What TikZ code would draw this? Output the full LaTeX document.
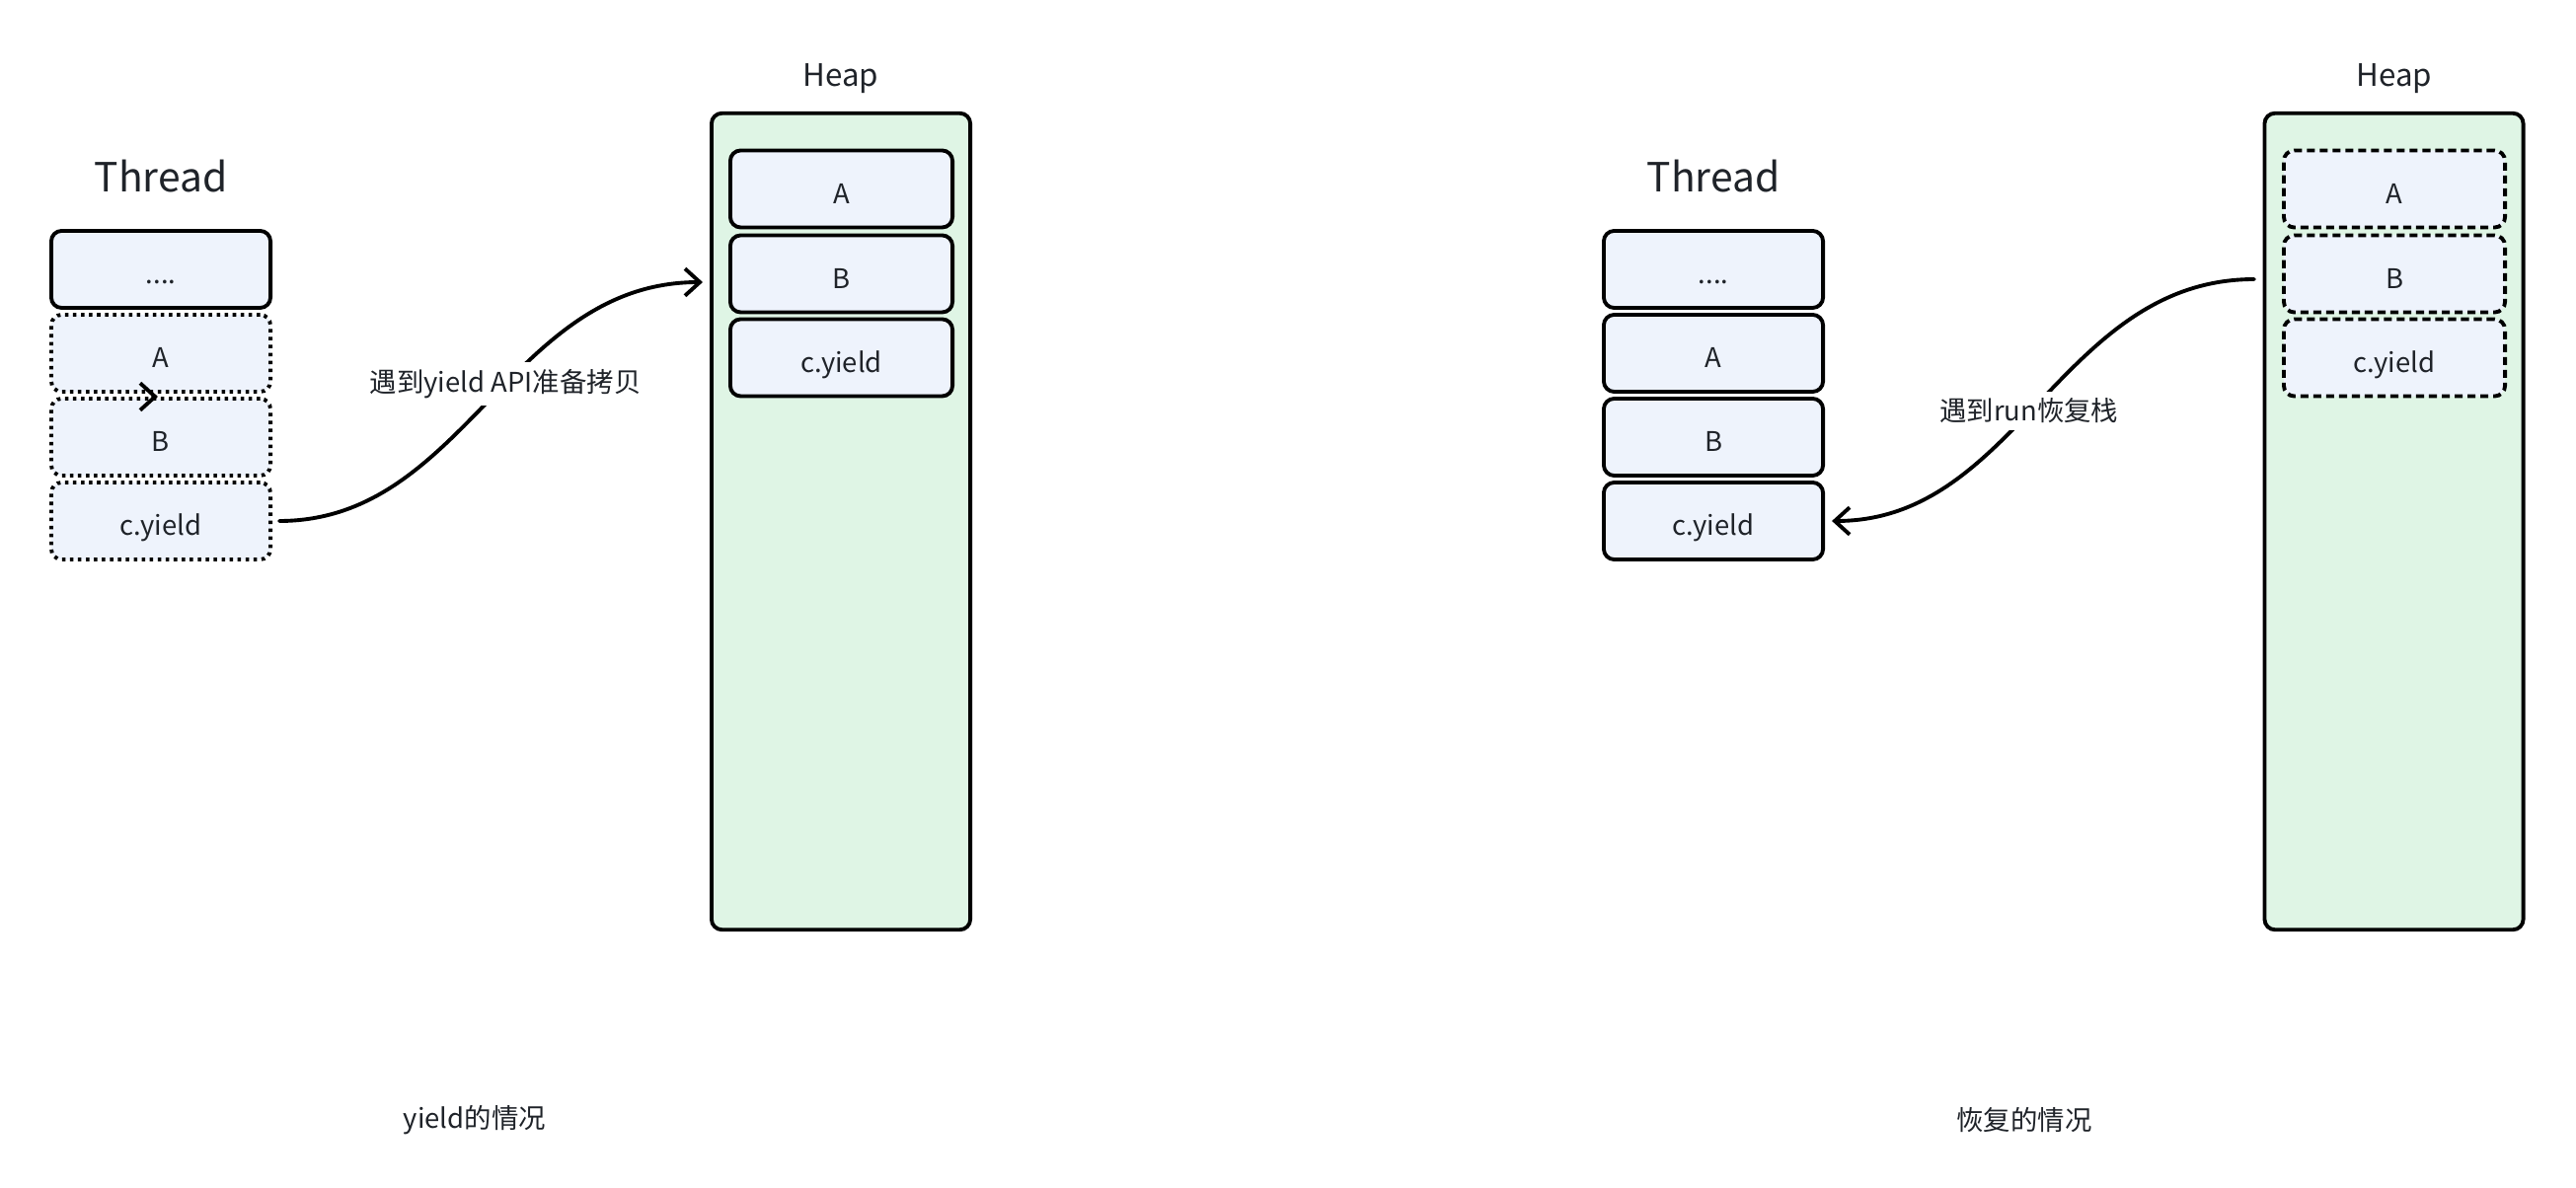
\documentclass[tikz,border=0pt]{standalone}
\usepackage{fontspec}
\setmainfont{Noto Sans CJK SC}
\usepackage{tikz}
\usetikzlibrary{arrows.meta}
\definecolor{ink}{HTML}{1F2329}
\definecolor{frame}{HTML}{EEF3FC}
\definecolor{heapbg}{HTML}{DFF5E5}

\begin{document}
\begin{tikzpicture}[
    x=0.01cm, y=-0.01cm,
    framebox/.style={
        draw=black, fill=frame, line width=1.1pt, rounded corners=3pt,
        minimum width=2.22cm, minimum height=0.78cm, inner sep=0pt,
        text height=1.0em, text depth=0.15em,
        text=ink, font=\fontsize{7.8}{9}\selectfont,
    },
    copied/.style={framebox, dash pattern=on 1pt off 1.3pt},
    saved/.style={framebox, dash pattern=on 2.3pt off 1.4pt},
    heapbox/.style={
        draw=black, fill=heapbg, line width=1.1pt, rounded corners=3pt,
        minimum width=2.62cm, minimum height=8.27cm, inner sep=0pt,
    },
    title/.style={text=ink, anchor=base, font=\fontsize{11.6}{14}\selectfont},
    heaptitle/.style={text=ink, anchor=base, font=\fontsize{8.9}{11}\selectfont},
    caption/.style={text=ink, font=\fontsize{7.8}{9}\selectfont},
    flowarrow/.style={
        black, line width=1.1pt, line cap=round,
        -{Straight Barb[length=4.3pt, width=7.8pt]},
    },
]

% page
\fill[white] (0,0) rectangle (2610,1204);
\useasboundingbox (0,0) rectangle (2610,1204);

% =============================================
% LEFT – yield: stack copied out to the heap
% =============================================
\node[title] (lthreadtitle) at (163,195) {Thread};
\node[framebox] (ldots) at (163,273) {....};
\node[copied] (lfa) at (163,358) {A};
\node[copied] (lfb) at (163,443) {B};
\node[copied] (lyield) at (163,528) {c.yield};

% stray tip between A and B
\coordinate (strayfrom) at (157,402);
\coordinate (strayto) at (160,402);
\draw[flowarrow] (strayfrom) -- (strayto);

\node[heaptitle] (lheaptitle) at (852,88) {Heap};
\node[heapbox] (lheap) at (852,528.5) {};
\node[framebox, minimum width=2.25cm] (lha) at (852.5,191.5) {A};
\node[framebox, minimum width=2.25cm] (lhb) at (852.5,277.5) {B};
\node[framebox, minimum width=2.25cm] (lhyield) at (852.5,362.5) {c.yield};

\coordinate (lheapin) at (712,286);
\draw[flowarrow, shorten <=2pt] (lyield.east) to[out=0, in=180]
    node[pos=0.55, fill=white, caption, inner sep=2pt] (lcopy) {遇到yield API准备拷贝}
    (lheapin);

\node[caption] (lcaption) at (481,1135) {yield的情况};

% =============================================
% RIGHT – run: stack restored from the heap
% =============================================
\node[title] (rthreadtitle) at (1736,195) {Thread};
\node[framebox] (rdots) at (1736,273) {....};
\node[framebox] (rfa) at (1736,358) {A};
\node[framebox] (rfb) at (1736,443) {B};
\node[framebox] (ryield) at (1736,528) {c.yield};

\node[heaptitle] (rheaptitle) at (2426,88) {Heap};
\node[heapbox] (rheap) at (2425.5,528.5) {};
\node[saved, minimum width=2.24cm] (rha) at (2426,191.5) {A};
\node[saved, minimum width=2.24cm] (rhb) at (2426,277.5) {B};
\node[saved, minimum width=2.24cm] (rhyield) at (2426,362.5) {c.yield};

\coordinate (rheapout) at (2284,283);
\draw[flowarrow, shorten >=2pt] (rheapout) to[out=180, in=0]
    node[pos=0.53, fill=white, caption, inner sep=2pt] (rrestore) {遇到run恢复栈}
    (ryield.east);

\node[caption] (rcaption) at (2051,1135) {恢复的情况};

\end{tikzpicture}
\end{document}
